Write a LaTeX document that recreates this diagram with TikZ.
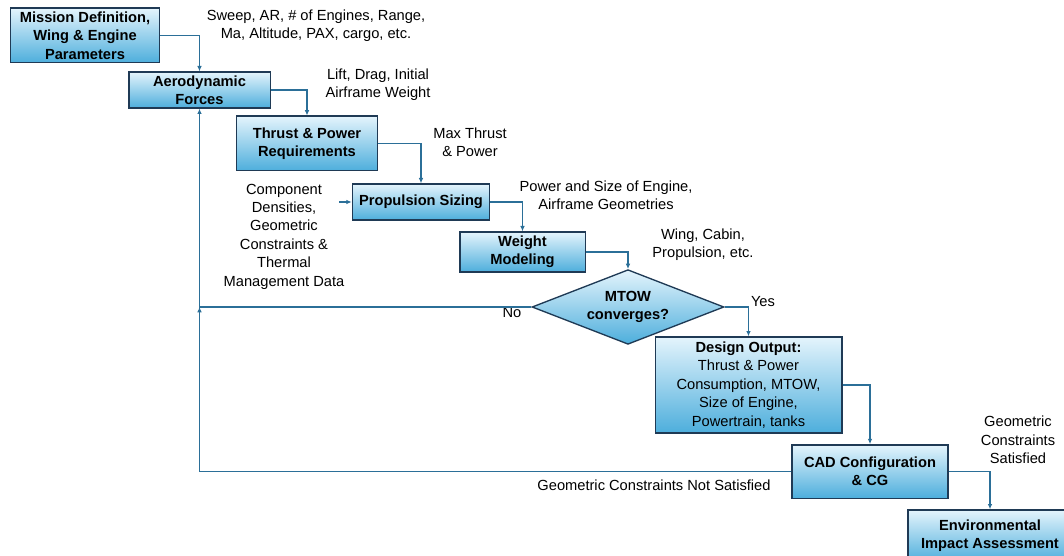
\documentclass[tikz,border=0pt]{standalone}
\usepackage{fontspec}
\setmainfont{Liberation Sans}
\usetikzlibrary{shapes.geometric,positioning,arrows.meta}
\definecolor{boxline}{HTML}{1F3A55}
\definecolor{boxtop}{HTML}{E4F4FC}
\definecolor{boxbot}{HTML}{4DAEDC}
\definecolor{flow}{HTML}{2B6F98}
\tikzset{
    block/.style={
    rectangle,draw=boxline,line width=1pt,top color=boxtop,bottom color=boxbot,
    font=\bfseries\fontsize{11}{13.8}\selectfont,align=center,inner sep=1pt
    },
    decide/.style={
    diamond,aspect=2.55,draw=boxline,line width=1pt,top color=boxtop,bottom color=boxbot,
    font=\bfseries\fontsize{11}{13.8}\selectfont,align=center,inner sep=0pt
    },
    note/.style={
    font=\fontsize{11}{13.8}\selectfont,align=center,inner sep=0pt
    },
    flowline/.style={
    draw=flow,line width=0.9pt,-{Latex[length=4pt,width=3.5pt]}
    },
}
\begin{document}
\begin{tikzpicture}[x=0.75pt,y=-0.75pt]
   \clip (0,0) rectangle (1064,556);
   \useasboundingbox (0,0) rectangle (1064,556);

   % boxes
   \node[block,minimum width=112pt,minimum height=41pt] (mission) at (85,35.5) {Mission Definition,\\Wing \& Engine\\Parameters};
   \node[block,minimum width=106pt,minimum height=27pt] (aero) at (199.5,90) {Aerodynamic\\Forces};
   \node[block,minimum width=106pt,minimum height=41pt] (thrust) at (307,143.5) {Thrust \& Power\\Requirements};
   \node[block,minimum width=103pt,minimum height=27pt] (prop) at (421,202) {Propulsion Sizing};
   \node[block,minimum width=94pt,minimum height=30pt] (weight) at (522.5,252) {Weight\\Modeling};
   \node[decide,minimum width=144pt,minimum height=56pt] (mtow) at (628,307) {MTOW\\converges?};
   \node[block,minimum width=140pt,minimum height=72pt,font=\fontsize{11}{13.8}\selectfont] (design) at (748.5,385) {\textbf{Design Output:}\\Thrust \& Power\\Consumption, MTOW,\\Size of Engine,\\Powertrain, tanks};
   \node[block,minimum width=117pt,minimum height=40pt] (cad) at (870,471.5) {CAD Configuration\\\& CG};
   \node[block,minimum width=123pt,minimum height=39pt] (env) at (990,536) {Environmental\\Impact Assessment};

   % texts beside the flow
   \node[note] (sweep) at (316,26) {Sweep, AR, \# of Engines, Range,\\Ma, Altitude, PAX, cargo, etc.};
   \node[note] (lift) at (378,85) {Lift, Drag, Initial\\Airframe Weight};
   \node[note] (maxt) at (470,142) {Max Thrust\\\& Power};
   \node[note] (comp) at (284,236.5) {Component\\Densities,\\Geometric\\Constraints \&\\Thermal\\Management Data};
   \node[note] (psize) at (606,195) {Power and Size of Engine,\\Airframe Geometries};
   \node[note] (wing) at (703,245) {Wing, Cabin,\\Propulsion, etc.};
   \node[note] (no) at (512,313) {No};
   \node[note] (yes) at (763,302) {Yes};
   \node[note] (geosat) at (1018,440) {Geometric\\Constraints\\Satisfied};
   \node[note] (geonot) at (654,485) {Geometric Constraints Not Satisfied};

   \coordinate (compin) at (339,202);
   \coordinate (join) at (aero.south |- mtow.west);

   % connectors
   \draw[flowline] (mission.east) -| (aero.north);
   \draw[flowline] (aero.east) -| (thrust.north);
   \draw[flowline] (thrust.east) -| (prop.north);
   \draw[flowline] (compin) -- (prop.west);
   \draw[flowline] (prop.east) -| (weight.north);
   \draw[flowline] (weight.east) -| (mtow.north);
   \draw[flowline] (mtow.east) -| (design.north);
   \draw[flowline] (design.east) -| (cad.north);
   \draw[flowline] (cad.east) -| (env.north);
   \draw[flowline] (mtow.west) -| (aero.south);
   \draw[flowline] (cad.west) -| (join);
\end{tikzpicture}
\end{document}
